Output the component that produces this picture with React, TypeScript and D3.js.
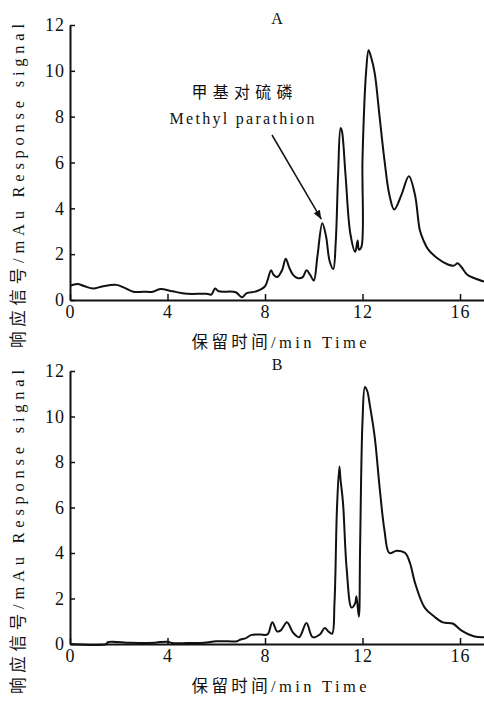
import React, { useEffect, useRef } from 'react';
import * as d3 from 'd3';

// retention time (min) and response (mAu)
const timesA = [0, 0.3, 0.6, 0.95, 1.35, 1.9, 2.2, 2.6, 3.0, 3.4, 3.7, 4.2, 4.8, 5.6, 5.8, 5.95, 6.1, 6.8, 7.05, 7.25, 7.65, 8.0, 8.1, 8.25, 8.35, 8.5, 8.7, 8.85, 9.0, 9.15, 9.35, 9.55, 9.7, 9.85, 10.0, 10.15, 10.35, 10.5, 10.65, 10.8, 10.9, 11.0, 11.1, 11.15, 11.3, 11.5, 11.7, 11.8, 11.85, 11.95, 12.0, 12.15, 12.25, 12.35, 12.5, 12.7, 12.9, 13.1, 13.3, 13.6, 13.9, 14.15, 14.35, 14.5, 14.7, 15.1, 15.5, 15.75, 15.9, 16.05, 16.3, 16.6, 17.0];
const signalA = [0.62, 0.7, 0.6, 0.5, 0.6, 0.66, 0.55, 0.36, 0.36, 0.36, 0.48, 0.38, 0.27, 0.27, 0.24, 0.5, 0.38, 0.34, 0.12, 0.3, 0.38, 0.6, 0.85, 1.3, 1.1, 1.0, 1.3, 1.8, 1.4, 1.1, 0.95, 1.0, 1.3, 1.1, 0.85, 1.9, 3.35, 2.8, 1.7, 1.35, 2.5, 5.5, 7.5, 7.4, 5.5, 2.9, 2.1, 2.6, 2.2, 2.3, 6.2, 10.0, 10.9, 10.6, 9.9, 8.0, 6.1, 4.6, 3.95, 4.6, 5.4, 4.6, 3.05, 2.6, 2.2, 1.8, 1.55, 1.5, 1.6, 1.45, 1.1, 0.95, 0.8];

const timesB = [0, 1.5, 1.55, 2.5, 3.5, 4.0, 4.2, 4.8, 5.5, 6.0, 6.5, 6.85, 7.0, 7.2, 7.45, 7.8, 8.1, 8.3, 8.5, 8.65, 8.9, 9.15, 9.4, 9.7, 9.95, 10.25, 10.45, 10.6, 10.75, 10.85, 10.95, 11.05, 11.1, 11.2, 11.35, 11.55, 11.7, 11.75, 11.85, 11.9, 12.0, 12.1, 12.2, 12.3, 12.5, 12.7, 12.9, 13.1, 13.4, 13.75, 13.95, 14.15, 14.55, 14.95, 15.3, 15.7, 16.05, 16.6, 17.0];
const signalB = [0, 0, 0.08, 0.05, 0.06, 0.1, 0.04, 0.04, 0.05, 0.12, 0.12, 0.12, 0.2, 0.25, 0.4, 0.42, 0.42, 0.96, 0.55, 0.6, 0.96, 0.5, 0.3, 0.92, 0.3, 0.42, 0.7, 0.55, 0.45, 1.8, 5.9, 7.8, 7.2, 6.2, 3.3, 1.6, 1.8, 2.1, 1.2, 4.2, 9.8, 11.3, 11.1, 10.5, 9.1, 6.9, 5.0, 4.0, 4.1, 4.0, 3.55, 2.7, 1.6, 1.2, 0.95, 0.9, 0.6, 0.33, 0.3];

const xTicks = [0, 4, 8, 12, 16];
const yTicks = [0, 2, 4, 6, 8, 10, 12];

const xLabel = '保留时间/min Time';
const yLabel = '响应信号/mAu Response signal';
const annoCn = '甲基对硫磷';
const annoEn = 'Methyl parathion';

const FONT = "'Liberation Serif', 'Noto Sans CJK SC', serif";

const App = () => {
  const svgRef = useRef<SVGSVGElement>(null);

  useEffect(() => {
    const svg = d3.select(svgRef.current);
    svg.selectAll('*').remove();

    svg.append('defs').append('marker')
      .attr('id', 'arrow')
      .attr('viewBox', '0 0 10 10')
      .attr('refX', 10)
      .attr('refY', 5)
      .attr('markerWidth', 9)
      .attr('markerHeight', 9)
      .attr('markerUnits', 'userSpaceOnUse')
      .attr('orient', 'auto')
      .append('path')
      .attr('d', 'M0,1 L10,5 L0,9 Z')
      .attr('fill', '#111');

    const x = d3.scaleLinear().domain([0, 17]).range([70, 484.4]);

    const panels = [
      { title: 'A', times: timesA, values: signalA, y0: 300, y12: 25 },
      { title: 'B', times: timesB, values: signalB, y0: 644, y12: 371 },
    ];

    panels.forEach((p) => {
      const y = d3.scaleLinear().domain([0, 12]).range([p.y0, p.y12]);
      const g = svg.append('g');

      const line = d3.line<number>()
        .x((_, i) => x(p.times[i]))
        .y((d) => y(d))
        .curve(d3.curveCatmullRom.alpha(0.5));

      g.append('path')
        .datum(p.values)
        .attr('fill', 'none')
        .attr('stroke', '#111')
        .attr('stroke-width', 2)
        .attr('stroke-linejoin', 'round')
        .attr('d', line);

      const xAxis = g.append('g')
        .attr('transform', `translate(0,${p.y0})`)
        .call(d3.axisBottom(x).tickValues(xTicks).tickSizeInner(-6).tickSizeOuter(0).tickPadding(5).tickFormat(d3.format('d')));

      const yAxis = g.append('g')
        .attr('transform', 'translate(70,0)')
        .call(d3.axisLeft(y).tickValues(yTicks).tickSizeInner(-5).tickSizeOuter(0).tickPadding(5).tickFormat(d3.format('d')));

      [xAxis, yAxis].forEach((a) => {
        a.attr('font-family', FONT).attr('font-size', 18);
        a.select('.domain').attr('stroke', '#111').attr('stroke-width', 2);
        a.selectAll('.tick line').attr('stroke', '#111').attr('stroke-width', 1.5);
        a.selectAll('.tick text')
          .attr('fill', '#111')
          .style('font-family', FONT)
          .style('font-size', '18px')
          .style('letter-spacing', '1px');
      });

      g.append('text')
        .attr('x', 277)
        .attr('y', p.y12 - 7)
        .attr('text-anchor', 'middle')
        .attr('dominant-baseline', 'central')
        .style('font-family', FONT)
        .style('font-size', '16px')
        .attr('fill', '#111')
        .text(p.title);

      g.append('text')
        .attr('x', 279)
        .attr('y', p.y0 + 42)
        .attr('text-anchor', 'middle')
        .attr('dominant-baseline', 'central')
        .attr('textLength', 175)
        .attr('lengthAdjust', 'spacing')
        .style('font-family', FONT)
        .style('font-size', '16.5px')
        .attr('fill', '#111')
        .text(xLabel);

      const cy = p.y12 + 161;
      g.append('text')
        .attr('transform', `translate(18,${cy}) rotate(-90)`)
        .attr('text-anchor', 'middle')
        .attr('dominant-baseline', 'central')
        .attr('textLength', 324)
        .attr('lengthAdjust', 'spacing')
        .style('font-family', FONT)
        .style('font-size', '16.5px')
        .attr('fill', '#111')
        .text(yLabel);

      if (p.title === 'A') {
        g.append('text')
          .attr('x', 242)
          .attr('y', 92)
          .attr('text-anchor', 'middle')
          .attr('dominant-baseline', 'central')
          .attr('textLength', 101)
          .attr('lengthAdjust', 'spacing')
          .style('font-family', FONT)
          .style('font-size', '16px')
          .attr('fill', '#111')
          .text(annoCn);

        g.append('text')
          .attr('x', 242)
          .attr('y', 118)
          .attr('text-anchor', 'middle')
          .attr('dominant-baseline', 'central')
          .attr('textLength', 145)
          .attr('lengthAdjust', 'spacing')
          .style('font-family', FONT)
          .style('font-size', '16px')
          .attr('fill', '#111')
          .text(annoEn);

        // arrow to the methyl parathion peak
        const peakT = 10.35;
        const peakV = signalA[timesA.indexOf(peakT)];
        g.append('line')
          .attr('x1', 272)
          .attr('y1', 135)
          .attr('x2', x(peakT) - 1)
          .attr('y2', y(peakV) - 4)
          .attr('stroke', '#111')
          .attr('stroke-width', 1.5)
          .attr('marker-end', 'url(#arrow)');
      }
    });
  }, []);

  return (
    <svg
      ref={svgRef}
      width={484}
      height={701}
      style={{ position: 'absolute', left: 0, top: 0, background: '#fff' }}
    />
  );
};

export default App;
